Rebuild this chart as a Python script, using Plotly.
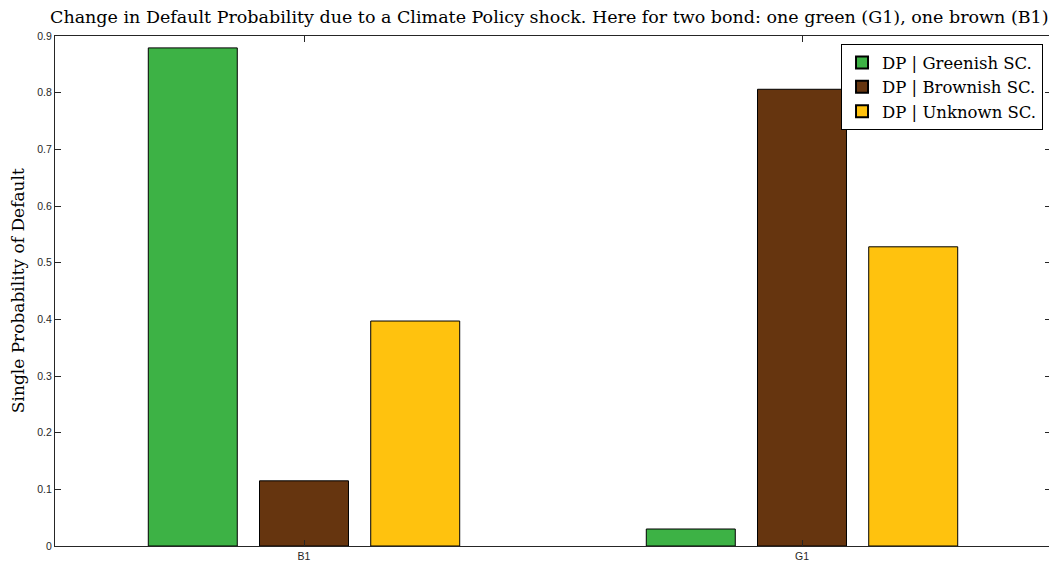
import plotly.graph_objects as go

bonds = ["B1", "G1"]
dp_green = [0.879, 0.030]
dp_brown = [0.115, 0.806]
dp_unknown = [0.397, 0.528]

series = [
    ("DP | Greenish SC.", dp_green, "#3DB245"),
    ("DP | Brownish SC.", dp_brown, "#66350F"),
    ("DP | Unknown SC.", dp_unknown, "#FFC20E"),
]

serif = "DejaVu Serif"

fig = go.Figure()
for name, vals, col in series:
    fig.add_trace(go.Bar(
        x=bonds, y=vals, name=name,
        marker=dict(color=col, line=dict(color="black", width=1)),
    ))

# page body adds an 8px margin, so the figure is a bit smaller than the window
fig.update_layout(
    width=1049, height=556,
    margin=dict(l=47, r=6, t=28, b=18, autoexpand=False),
    plot_bgcolor="white", paper_bgcolor="white",
    barmode="group", bargap=0.33, bargroupgap=0.2,
    title=dict(
        text="Change in Default Probability due to a Climate Policy shock. Here for two bond: one green (G1), one brown (B1)",
        x=0.516, xanchor="center", y=0.984, yanchor="middle",
        font=dict(family=serif, size=17.5, color="black"),
    ),
    legend=dict(
        x=0.992, xanchor="right", y=0.984, yanchor="top",
        bgcolor="white", bordercolor="black", borderwidth=1,
        font=dict(family=serif, size=16.5, color="black"),
        tracegroupgap=0, itemsizing="constant",
    ),
    showlegend=True,
)

fig.add_annotation(
    text="Single Probability of Default", textangle=-90,
    xref="paper", yref="paper", x=-0.037, y=0.5,
    xanchor="center", yanchor="middle", showarrow=False,
    font=dict(family=serif, size=17, color="black"),
)

fig.update_xaxes(
    showline=True, linecolor="#262626", linewidth=1, mirror="ticks",
    ticks="inside", ticklen=6, tickcolor="#262626",
    tickfont=dict(family="Liberation Sans", size=10.5, color="#262626"),
    showgrid=False, zeroline=False, automargin=False,
)
fig.update_yaxes(
    range=[0, 0.9], dtick=0.1,
    showline=True, linecolor="#262626", linewidth=1, mirror="ticks",
    ticks="inside", ticklen=6, tickcolor="#262626",
    tickfont=dict(family="Liberation Sans", size=10.5, color="#262626"),
    showgrid=False, zeroline=False, automargin=False,
)

fig.write_html("out.html")
